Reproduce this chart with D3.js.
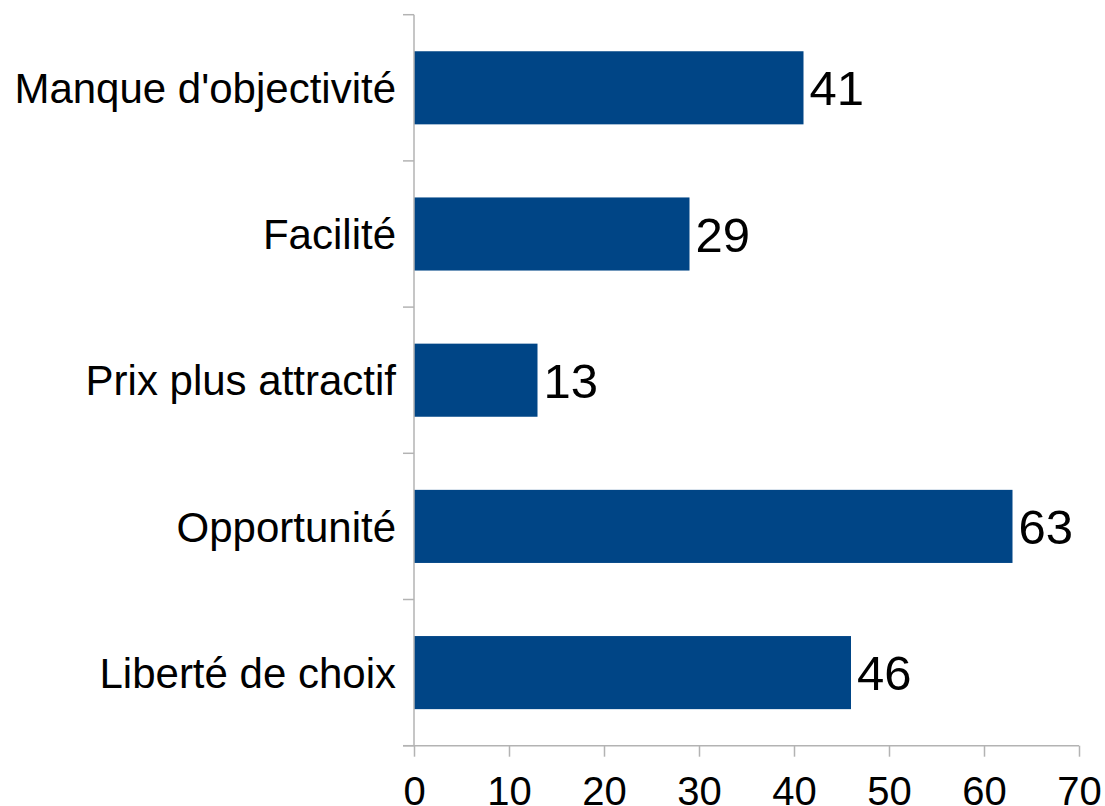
<!DOCTYPE html>
<html>
<head>
<meta charset="utf-8">
<script src="https://cdn.jsdelivr.net/npm/d3@7"></script>
<style>
  body { margin: 0; background: #fff; }
  text { font-family: "Liberation Sans", Arial, sans-serif; fill: #000; }
</style>
</head>
<body>
<div id="chart"></div>
<script>
// data (top to bottom)
const categories = ["Manque d'objectivité", "Facilité", "Prix plus attractif", "Opportunité", "Liberté de choix"];
const values = [41, 29, 13, 63, 46];
const xTicks = [0, 10, 20, 30, 40, 50, 60, 70];

const width = 1105, height = 806;
const plot = { left: 414, right: 1079, top: 14.7, bottom: 745.7 };
const axisColor = "#b3b3b3";
const barColor = "#004586";

const svg = d3.select("#chart").append("svg")
    .attr("width", width)
    .attr("height", height);

const x = d3.scaleLinear().domain([0, 70]).range([plot.left, plot.right]);
const y = d3.scaleBand()
    .domain(categories)
    .range([plot.top, plot.bottom])
    .paddingInner(0.5)
    .paddingOuter(0.25);

const data = categories.map((c, i) => ({ cat: c, val: values[i] }));

// bars
svg.append("g").selectAll("rect")
    .data(data)
    .join("rect")
    .attr("x", x(0))
    .attr("y", d => y(d.cat))
    .attr("width", d => x(d.val) - x(0))
    .attr("height", y.bandwidth())
    .attr("fill", barColor);

// value labels
svg.append("g").selectAll("text")
    .data(data)
    .join("text")
    .attr("x", d => x(d.val) + 6)
    .attr("y", d => y(d.cat) + y.bandwidth() / 2)
    .attr("dy", "0.36em")
    .style("font-size", "49px")
    .text(d => d.val);

// x axis
const xAxis = svg.append("g")
    .attr("transform", `translate(0,${plot.bottom})`)
    .call(d3.axisBottom(x).tickValues(xTicks).tickSize(11).tickSizeOuter(0).tickPadding(20));
xAxis.select(".domain").remove();
xAxis.selectAll(".tick line").attr("stroke", axisColor).attr("stroke-width", 1.5);
xAxis.selectAll(".tick text")
    .style("font-size", "40px")
    .attr("dy", "0.71em");
xAxis.append("line")
    .attr("x1", plot.left - 11).attr("x2", plot.right)
    .attr("stroke", axisColor).attr("stroke-width", 1.5);

// y axis: line, ticks at band boundaries, category labels
const yAxis = svg.append("g");
yAxis.append("line")
    .attr("x1", plot.left).attr("x2", plot.left)
    .attr("y1", plot.top).attr("y2", plot.bottom)
    .attr("stroke", axisColor).attr("stroke-width", 1.5);
const bounds = d3.range(categories.length + 1).map(i => plot.top + i * y.step());
yAxis.selectAll(".ytick")
    .data(bounds)
    .join("line")
    .attr("class", "ytick")
    .attr("x1", plot.left - 11).attr("x2", plot.left)
    .attr("y1", d => d).attr("y2", d => d)
    .attr("stroke", axisColor).attr("stroke-width", 1.5);
yAxis.selectAll(".ylabel")
    .data(categories)
    .join("text")
    .attr("class", "ylabel")
    .attr("x", 396)
    .attr("y", d => y(d) + y.bandwidth() / 2)
    .attr("dy", "0.36em")
    .attr("text-anchor", "end")
    .style("font-size", "42px")
    .text(d => d);
</script>
</body>
</html>
